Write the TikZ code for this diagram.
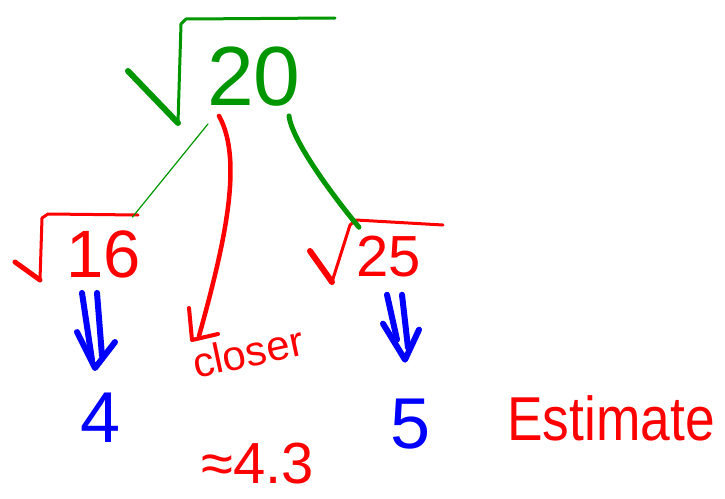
\documentclass[tikz,border=0pt]{standalone}
\usepackage{fontspec}
\setmainfont{Liberation Sans}

\definecolor{pengreen}{RGB}{0,150,0}
\definecolor{penred}{RGB}{255,0,0}
\definecolor{penblue}{RGB}{0,0,255}

\tikzset{
  greenpen/.style={draw=pengreen, line width=3pt, line cap=round, line join=round},
  redpen/.style={draw=penred, line width=3pt, line cap=round, line join=round},
  bluepen/.style={draw=penblue, line width=6pt, line cap=round, line join=round},
  ink/.style={inner sep=1pt, font=\fontsize{#1}{#1}\selectfont},
}

\begin{document}
\begin{tikzpicture}[x=1pt, y=-1pt]
        \useasboundingbox (0,0) rectangle (725,498);

        % top: root of 20
        \draw[greenpen, line width=6pt] (128,71) -- (178,123);
        \draw[greenpen] (178,123) -- (181,24) -- (186,19) -- (335,18);
        \node[ink=84, text=pengreen] (n20) at (254,77) {20};

        % root of 16
        \draw[redpen, line width=5pt] (15,262) -- (40,280);
        \draw[redpen] (40,280) -- (42,218) -- (48,214) -- (138,215);
        \node[ink=67, text=penred] (n16) at (104,254) {16};

        % root of 25
        \draw[redpen, line width=6pt] (310,251) -- (332,282);
        \draw[redpen] (332,282) -- (350,225) -- (356,220) -- (443,225);
        \node[ink=58, text=penred] (n25) at (389,257) {25};

        % branches
        \draw[pengreen, line width=1.2pt, line cap=round] ([shift={(-46,16)}]n20.south) -- ([shift={(-10,-12)}]n16.north east);
        \draw[greenpen, line width=5pt] ([shift={(35,8)}]n20.south) .. controls +(3,25) and +(-25,-30) .. ([shift={(-30,-8)}]n25.north);

        % results
        \node[ink=72, text=penblue] (n4) at (101,418) {4};
        \node[ink=72, text=penblue] (n5) at (411,424) {5};

        % double arrows, drawn by hand
        \coordinate (top4) at ([shift={(-15,14)}]n16.south);
        \coordinate (tip4) at ([shift={(-6,-24)}]n4.north);
        \draw[bluepen] ([xshift=-7]top4) -- ([shift={(-3,-8)}]tip4);
        \draw[bluepen] ([xshift=8]top4) -- ([shift={(7,-12)}]tip4);
        \draw[bluepen] ([shift={(-18,-36)}]tip4) -- (tip4) -- ([shift={(20,-26)}]tip4);

        \coordinate (top5) at ([shift={(7,16)}]n25.south);
        \coordinate (tip5) at ([shift={(-6,-38)}]n5.north);
        \draw[bluepen] ([xshift=-9]top5) -- ([shift={(-8,-20)}]tip5);
        \draw[bluepen] ([xshift=6]top5) -- ([shift={(3,-12)}]tip5);
        \draw[bluepen] ([shift={(-22,-36)}]tip5) -- (tip5) -- ([shift={(14,-30)}]tip5);

        % closer
        \node[ink=42, text=penred, rotate=12, inner sep=0pt] (closer) at (248,352) {closer};
        \coordinate (tip) at (199,336);
        \draw[redpen, line width=4.5pt] ([shift={(-35,8)}]n20.south) .. controls +(25,45) and +(25,-90) .. (tip);
        \draw[redpen, line width=4pt] (189,308) -- (192,340) -- (218,334);

        \node[ink=58, text=penred] (approx) at (258,464) {≈4.3};
        \node[ink=62, text=penred, xscale=0.86] (est) at (611,418) {Estimate};
\end{tikzpicture}
\end{document}
